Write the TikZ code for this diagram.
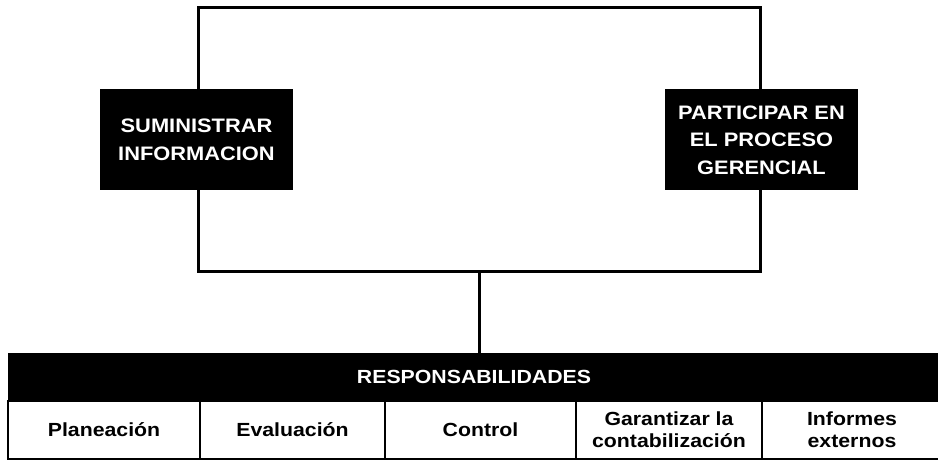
\documentclass[tikz,border=0pt]{standalone}
\usepackage{fontspec}
\setmainfont{Liberation Sans}[FakeStretch=1.12]
\usepackage{tikz}
\tikzset{
  marco/.style={draw=black, line width=3pt, minimum width=562pt, minimum height=264pt, inner sep=0pt},
  caja/.style={fill=black, text=white, font=\bfseries\fontsize{19.5}{27.5}\selectfont, align=center, minimum width=193pt, minimum height=101pt, inner sep=0pt},
  cabecera/.style={fill=black, text=white, font=\bfseries\fontsize{19}{22}\selectfont, minimum width=932pt, minimum height=48pt, inner sep=0pt},
  celda/.style={draw=black, line width=2.5pt, font=\bfseries\fontsize{19}{22}\selectfont, align=center, minimum height=58pt, inner sep=0pt},
  enlace/.style={draw=black, line width=3pt},
}
\begin{document}
\begin{tikzpicture}[x=1pt, y=-1pt]
  \useasboundingbox (0,0) rectangle (938,462);
  \node[marco] (marco) at (479,140) {};
  \node[caja] (info) at (marco.west) {SUMINISTRAR\\INFORMACION};
  \node[caja] (proc) at (marco.east) {PARTICIPAR EN\\EL PROCESO\\GERENCIAL};
  \node[cabecera] (resp) at (474,377) {RESPONSABILIDADES};
  \draw[enlace] (marco.south) -- (resp.north -| marco.south);
  \foreach \xa/\xb/\txt [count=\i] in {8/200/Planeación, 200/385/Evaluación, 385/576/Control,
      576/762/{Garantizar la\\contabilización}, 762/942/{Informes\\externos}}
    \node[celda, minimum width={(\xb-\xa)*1pt}] (col\i) at ({(\xa+\xb)/2},430) {\txt};
\end{tikzpicture}
\end{document}
